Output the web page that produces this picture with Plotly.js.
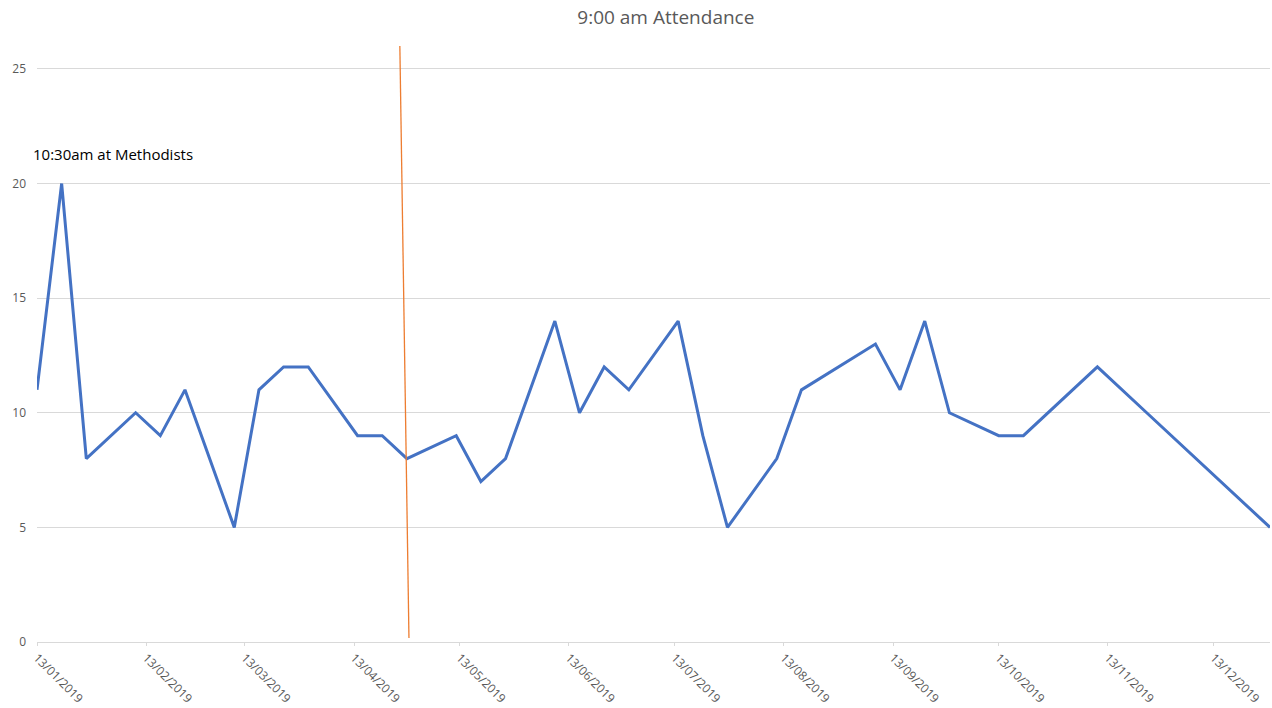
<!DOCTYPE html>
<html>
<head>
<meta charset="utf-8">
<script src="https://cdn.plot.ly/plotly-3.0.1.min.js"></script>
<style>html,body{margin:0;padding:0;background:#fff;}#chart{width:1272px;height:708px;}</style>
</head>
<body>
<div id="chart"></div>
<script>
var dates = ['2019-01-13','2019-01-20','2019-01-27','2019-02-10','2019-02-17','2019-02-24',
  '2019-03-10','2019-03-17','2019-03-24','2019-03-31','2019-04-14','2019-04-21','2019-04-28',
  '2019-05-12','2019-05-19','2019-05-26','2019-06-09','2019-06-16','2019-06-23','2019-06-30',
  '2019-07-14','2019-07-21','2019-07-28','2019-08-11','2019-08-18','2019-09-08','2019-09-15',
  '2019-09-22','2019-09-29','2019-10-13','2019-10-20','2019-11-10','2019-11-24','2019-12-29'];
var attendance = [11,20,8,10,9,11,5,11,12,12,9,9,8,9,7,8,14,10,12,11,14,9,5,8,11,13,11,14,10,9,9,12,10,5];
var tickDates = ['2019-01-13','2019-02-13','2019-03-13','2019-04-13','2019-05-13','2019-06-13',
  '2019-07-13','2019-08-13','2019-09-13','2019-10-13','2019-11-13','2019-12-13'];
var tickLabels = ['13/01/2019','13/02/2019','13/03/2019','13/04/2019','13/05/2019','13/06/2019',
  '13/07/2019','13/08/2019','13/09/2019','13/10/2019','13/11/2019','13/12/2019'];
var dividerX = ['2019-04-26 00:00','2019-04-28 14:00'];
var dividerY = [26, 0.17];
var chartTitle = '9:00 am Attendance';
var noteText = '10:30am at Methodists';

var traces = [
  {x: dates, y: attendance, type: 'scatter', mode: 'lines',
   line: {color: '#4472C4', width: 3}, hoverinfo: 'x+y', showlegend: false},
  {x: dividerX, y: dividerY, type: 'scatter', mode: 'lines',
   line: {color: '#ED7D31', width: 1.3}, hoverinfo: 'skip', showlegend: false}
];

var layout = {
  width: 1272, height: 708,
  margin: {l: 37, r: 2, t: 46, b: 66},
  paper_bgcolor: '#ffffff', plot_bgcolor: '#ffffff',
  font: {family: 'Open Sans, sans-serif', color: '#595959'},
  title: {text: chartTitle, x: 0.51, xref: 'paper', y: 0.975, yref: 'container', yanchor: 'middle',
          font: {size: 19, color: '#595959', family: 'Open Sans, sans-serif'}},
  xaxis: {type: 'date', range: ['2019-01-13','2019-12-29'], tickmode: 'array',
          tickvals: tickDates, ticktext: tickLabels, tickangle: 45,
          tickfont: {size: 12, color: '#595959'}, showgrid: false, zeroline: false,
          showline: true, linecolor: '#d9d9d9', linewidth: 1,
          ticks: 'outside', ticklen: 3, tickcolor: '#d9d9d9'},
  yaxis: {range: [0, 26], tickvals: [0,5,10,15,20,25], showgrid: true, gridcolor: '#d9d9d9',
          zeroline: false, showline: false, ticks: '', tickfont: {size: 12, color: '#595959'},
          ticklabelstandoff: 10},
  annotations: [{text: noteText, xref: 'paper', yref: 'paper', x: -0.005, y: 0.819,
                 xanchor: 'left', yanchor: 'middle', showarrow: false,
                 font: {size: 15, color: '#000000', family: 'Open Sans, sans-serif'}}]
};
Plotly.newPlot('chart', traces, layout, {displayModeBar: false, responsive: false});
</script>
</body>
</html>
